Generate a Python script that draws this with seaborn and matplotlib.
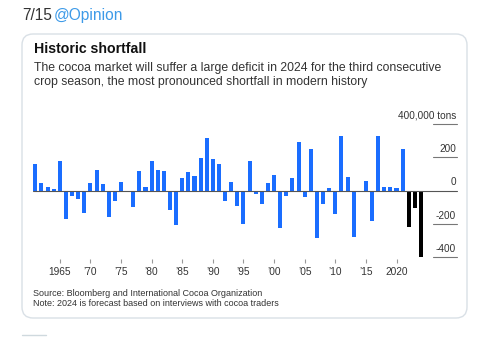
import matplotlib
matplotlib.use("Agg")
import matplotlib.pyplot as plt
import seaborn as sns
import pandas as pd
from matplotlib.patches import FancyBboxPatch
from matplotlib.lines import Line2D

# ---- data (thousand tons, surplus/deficit by crop year) ----
years = list(range(1961, 2025))
balance = [158, 44, 20, 10, 180, -168, -32, -52, -132, 48,
           124, 40, -158, -60, 52, -3, -98, 116, 20, 176,
           126, 120, -114, -204, 78, 114, 88, 196, 314, 188,
           158, -62, 54, -90, -200, 176, -20, -80, 44, 96,
           -224, -30, 78, 290, -40, 250, -282, -78, 18, -140,
           330, 82, -280, -4, 58, -180, 330, 24, 20, 18,
           248, -218, -102, -395]
streak_years = [2022, 2023, 2024]
xtick_years = [1965, 1970, 1975, 1980, 1985, 1990, 1995, 2000, 2005, 2010, 2015, 2020]
xtick_labels = ["1965", "\u201970", "\u201975", "\u201980", "\u201985", "\u201990",
                "\u201995", "\u201900", "\u201905", "\u201910", "\u201915", "2020"]
ytick_vals = [400, 200, 0, -200, -400]
ytick_labels = ["400,000 tons", "200", "0", "-200", "-400"]

df = pd.DataFrame({"year": years, "balance": balance})
df["kind"] = ["streak" if y in streak_years else "normal" for y in years]

sns.set_theme(style="white")
plt.rcParams["font.family"] = ["Liberation Sans", "DejaVu Sans"]

W, H = 485, 360
fig = plt.figure(figsize=(W / 100, H / 100), dpi=100)
fig.patch.set_facecolor("white")

def fx(x):
    return x / W

def fy(y):
    return 1 - y / H

# card
card = FancyBboxPatch((0.22, (H - 318) / 100), 4.45, (318 - 34) / 100,
                      boxstyle="round,pad=0,rounding_size=0.11",
                      transform=fig.dpi_scale_trans, facecolor="white",
                      edgecolor="#d9e0e6", linewidth=1.0, zorder=-5)
fig.patches.append(card)
fig.add_artist(Line2D([fx(22), fx(46)], [fy(335), fy(335)], color="#cfd9de", lw=1.0))

# header
fig.text(fx(22), fy(20), "7/15", fontsize=11.2, color="#333333", va="baseline")
fig.text(fx(54), fy(20), "@Opinion", fontsize=11.2, color="#3d9ae8", va="baseline")

# titles
fig.text(fx(34), fy(53), "Historic shortfall", fontsize=10.2, fontweight="bold",
         color="#111111", va="baseline")
fig.text(fx(34), fy(71.5),
         "The cocoa market will suffer a large deficit in 2024 for the third consecutive",
         fontsize=8.8, color="#333333", va="baseline")
fig.text(fx(34), fy(85.5),
         "crop season, the most pronounced shortfall in modern history",
         fontsize=8.8, color="#333333", va="baseline")
fig.text(fx(33), fy(296.5), "Source: Bloomberg and International Cocoa Organization",
         fontsize=6.5, color="#333333", va="baseline")
fig.text(fx(33), fy(305.5), "Note: 2024 is forecast based on interviews with cocoa traders",
         fontsize=6.5, color="#333333", va="baseline")

# chart (categorical positions: index 0 = 1961)
ax_l, ax_r, ax_t, ax_b = 27, 460, 105, 259
ax = fig.add_axes([fx(ax_l), fy(ax_b), (ax_r - ax_l) / W, (ax_b - ax_t) / H])
ax.set_zorder(2)
ax.set_facecolor("none")
sns.barplot(data=df, x="year", y="balance", hue="kind",
            palette={"normal": "#1a6dff", "streak": "#000000"}, dodge=False,
            width=0.66, legend=False, ax=ax, saturation=1, linewidth=0,
            edgecolor="none")
ax.set_xlim(-1.36, len(years) - 1 + 6.37)
ax.set_ylim(-410, 514)
for s in ax.spines.values():
    s.set_visible(False)
ax.set_xlabel("")
ax.set_ylabel("")
ax.set_yticks([])
ax.set_xticks([years.index(y) for y in xtick_years])
ax.set_xticklabels(xtick_labels)
ax.tick_params(axis="x", length=3, width=0.8, color="#999999", pad=3,
               labelsize=7.3, labelcolor="#333333", bottom=True)

x0 = (33 - ax_l) / (ax_r - ax_l)
x1 = (457 - ax_l) / (ax_r - ax_l)
xs = (433 - ax_l) / (ax_r - ax_l)
for v, lab in zip(ytick_vals, ytick_labels):
    if v == 0:
        ax.axhline(v, xmin=x0, xmax=x1, color="#555555", lw=0.8, zorder=3)
    else:
        ax.axhline(v, xmin=xs, xmax=x1, color="#777777", lw=0.8, zorder=3)
    ax.annotate(lab, xy=(x1 - 0.002, v), xycoords=("axes fraction", "data"),
                xytext=(0, 3.8), textcoords="offset points", ha="right",
                va="baseline", fontsize=7.2, color="#333333")

fig.savefig("out.png", dpi=100, facecolor="white")
